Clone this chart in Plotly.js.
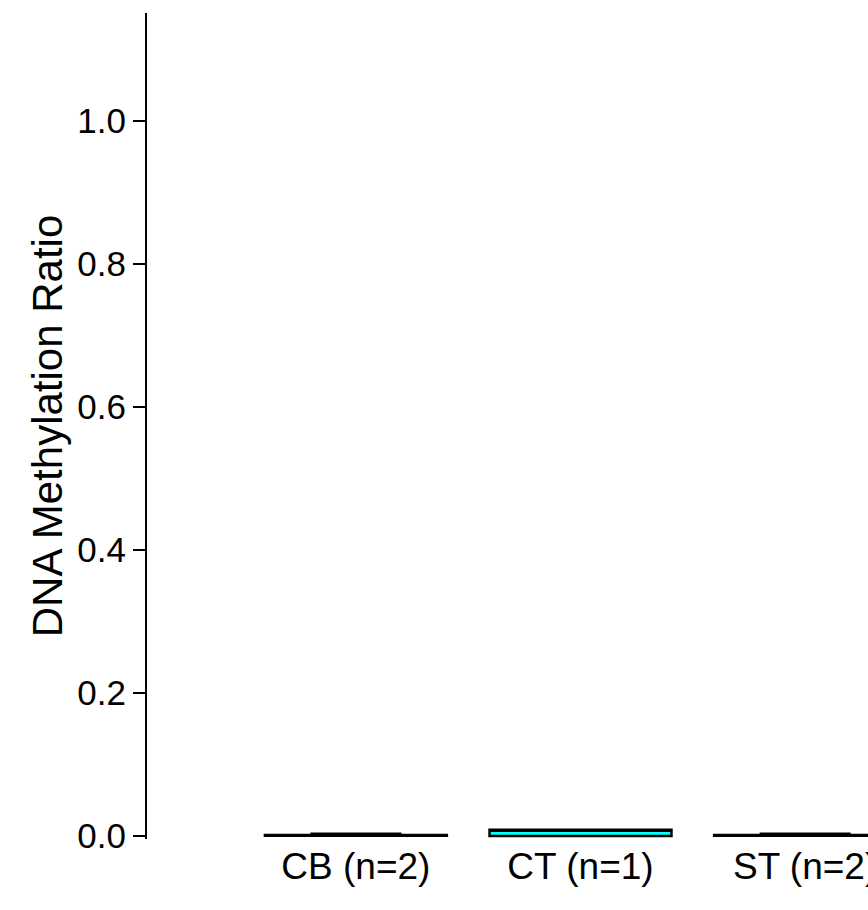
<!DOCTYPE html>
<html>
<head>
<meta charset="utf-8">
<script src="https://cdn.plot.ly/plotly-3.0.1.min.js"></script>
<style>html,body{margin:0;padding:0;background:#fff;}#chart{width:868px;height:910px;}</style>
</head>
<body>
<div id="chart"></div>
<script>
// Data
var categories = ["CB (n=2)", "CT (n=1)", "ST (n=2)"];
var lowerFence = [0.0005, 0.0003, 0.0005];
var q1Values = [0.0005, 0.0003, 0.0005];
var medianValues = [0.0010, 0.0088, 0.0010];
var q3Values = [0.0015, 0.0090, 0.0015];
var upperFence = [0.0032, 0.0090, 0.0032];
var fillColors = ["rgba(255,255,255,0)", "#00FFFF", "rgba(255,255,255,0)"];
var yTickVals = [0, 0.2, 0.4, 0.6, 0.8, 1.0];
var yTickText = ["0.0", "0.2", "0.4", "0.6", "0.8", "1.0"];

var traces = categories.map(function (c, i) {
  return {
    type: "box",
    x: [c],
    q1: [q1Values[i]],
    median: [medianValues[i]],
    q3: [q3Values[i]],
    lowerfence: [lowerFence[i]],
    upperfence: [upperFence[i]],
    width: 0.81,
    whiskerwidth: 0.5,
    fillcolor: fillColors[i],
    line: {color: "#000000", width: 2.5},
    boxpoints: false,
    hoverinfo: "skip",
    showlegend: false
  };
});

var font = "Liberation Sans, Arial, Helvetica, sans-serif";
var layout = {
  width: 868,
  height: 910,
  paper_bgcolor: "#ffffff",
  plot_bgcolor: "#ffffff",
  margin: {l: 147, r: 0, t: 13, b: 71},
  showlegend: false,
  font: {family: font, color: "#000000"},
  xaxis: {
    type: "category",
    range: [-0.93, 2.28],
    showline: false,
    showgrid: false,
    zeroline: false,
    ticks: "",
    ticklabelstandoff: 2,
    tickfont: {family: font, size: 37, color: "#000000"},
    fixedrange: true
  },
  yaxis: {
    range: [-0.004, 1.151],
    showline: true,
    linecolor: "#000000",
    linewidth: 2,
    showgrid: false,
    zeroline: false,
    ticks: "outside",
    ticklen: 12,
    tickwidth: 2,
    tickcolor: "#000000",
    tickvals: yTickVals,
    ticktext: yTickText,
    tickfont: {family: font, size: 35, color: "#000000"},
    title: {text: "DNA Methylation Ratio", font: {family: font, size: 42, color: "#000000"}, standoff: 2},
    automargin: false,
    fixedrange: true
  }
};

Plotly.newPlot("chart", traces, layout, {staticPlot: true, displayModeBar: false});
</script>
</body>
</html>
